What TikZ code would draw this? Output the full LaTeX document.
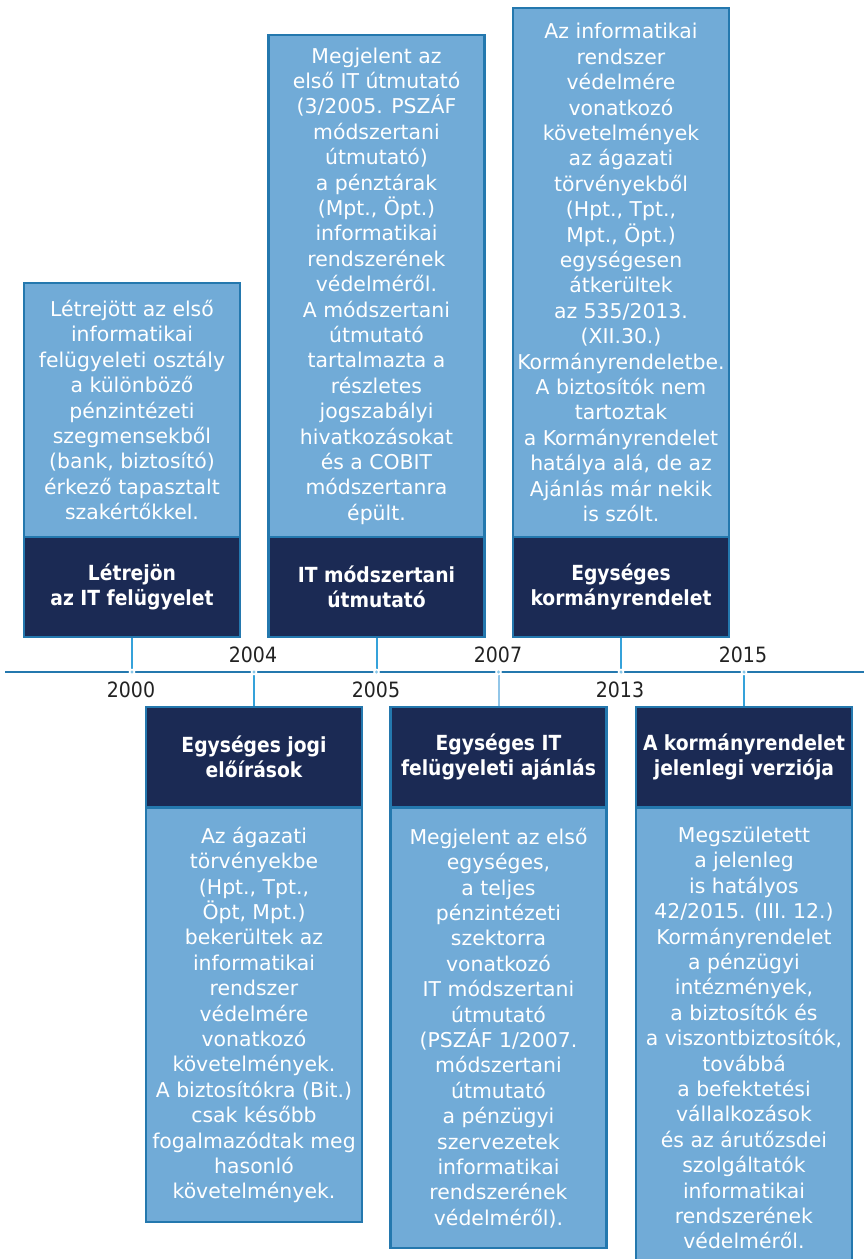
\documentclass[tikz,border=0pt]{standalone}
\usepackage{fontspec}
\setmainfont{DejaVu Sans}
\newfontfamily\headfont{DejaVu Sans Condensed}[BoldFont={DejaVu Sans Condensed Bold}]
\newfontfamily\yearfont{DejaVu Sans Condensed}
\definecolor{lightfill}{HTML}{71ABD7}
\definecolor{edgeblue}{HTML}{2478AE}
\definecolor{navy}{HTML}{1B2A54}
\definecolor{axisblue}{HTML}{2478AE}
\definecolor{tickblue}{HTML}{35A2DA}
\definecolor{ticklight}{HTML}{92C6E8}
\definecolor{yeargray}{HTML}{222222}
\begin{document}
\begin{tikzpicture}[x=0.75pt,y=-0.75pt,
  panel/.style={draw=edgeblue,line width=1.7pt,minimum width=162pt,inner sep=0pt,
    align=center,text=white},
  detailbox/.style={panel,fill=lightfill,font=\fontsize{15.3pt}{19.05pt}\selectfont},
  titlebox/.style={panel,fill=navy,minimum height=75pt,
    font=\headfont\fontsize{15.6pt}{18.8pt}\selectfont\bfseries},
  yearlabel/.style={font=\yearfont\fontsize{15.8pt}{16pt}\selectfont,text=yeargray,inner sep=0pt},
  tick/.style={draw=tickblue,line width=1.5pt},
  axisgap/.style={circle,fill=white,inner sep=0pt,minimum size=5pt},
  axisdot/.style={circle,fill=white!40!tickblue,inner sep=0pt,minimum size=2.6pt}]
\useasboundingbox (0,0) rectangle (864,1259);

% upper events
\node[detailbox,minimum height=190.5pt] (d1) at (132,410) {Létrejött az első\\informatikai\\felügyeleti osztály\\a különböző\\pénzintézeti\\szegmensekből\\(bank, biztosító)\\érkező tapasztalt\\szakértőkkel.};
\node[titlebox] (t1) at (132,587) {Létrejön\\az IT felügyelet};

\node[detailbox,minimum height=376.5pt] (d2) at (376.5,286) {Megjelent az\\első IT útmutató\\(3/2005. PSZÁF\\módszertani\\útmutató)\\a pénztárak\\(Mpt., Öpt.)\\informatikai\\rendszerének\\védelméről.\\A módszertani\\útmutató\\tartalmazta a\\részletes\\jogszabályi\\hivatkozásokat\\és a COBIT\\módszertanra\\épült.};
\node[titlebox] (t2) at (376.5,587) {IT módszertani\\útmutató};

\node[detailbox,minimum height=396.75pt] (d3) at (621,272.5) {Az informatikai\\rendszer\\védelmére\\vonatkozó\\követelmények\\az ágazati\\törvényekből\\(Hpt., Tpt.,\\Mpt., Öpt.)\\egységesen\\átkerültek\\az 535/2013.\\(XII.30.)\\Kormányrendeletbe.\\A biztosítók nem\\tartoztak\\a Kormányrendelet\\hatálya alá, de az\\Ajánlás már nekik\\is szólt.};
\node[titlebox] (t3) at (621,587) {Egységes\\kormányrendelet};

% lower events
\node[titlebox] (t4) at (254,757) {Egységes jogi\\előírások};
\node[detailbox,minimum height=310.5pt] (d4) at (254,1015) {Az ágazati\\törvényekbe\\(Hpt., Tpt.,\\Öpt, Mpt.)\\bekerültek az\\informatikai\\rendszer\\védelmére\\vonatkozó\\követelmények.\\A biztosítókra (Bit.)\\csak később\\fogalmazódtak meg\\hasonló\\követelmények.};

\node[titlebox] (t5) at (498.5,757) {Egységes IT\\felügyeleti ajánlás};
\node[detailbox,minimum height=330pt] (d5) at (498.5,1028) {Megjelent az első\\egységes,\\a teljes\\pénzintézeti\\szektorra\\vonatkozó\\IT módszertani\\útmutató\\(PSZÁF 1/2007.\\módszertani\\útmutató\\a pénzügyi\\szervezetek\\informatikai\\rendszerének\\védelméről).};

\node[titlebox] (t6) at (744,757) {A kormányrendelet\\jelenlegi verziója};
\node[detailbox,minimum height=345pt] (d6) at (744,1038) {Megszületett\\a jelenleg\\is hatályos\\42/2015. (III. 12.)\\Kormányrendelet\\a pénzügyi\\intézmények,\\a biztosítók és\\a viszontbiztosítók,\\továbbá\\a befektetési\\vállalkozások\\és az árutőzsdei\\szolgáltatók\\informatikai\\rendszerének\\védelméről.};

% time axis
\coordinate (axL) at (5,672);
\coordinate (axR) at (864,672);
\draw[axisblue,line width=2.2pt] (axL) -- (axR);
\coordinate (y2000) at (132,672);
\coordinate (y2004) at (254,672);
\coordinate (y2005) at (376.5,672);
\coordinate (y2007) at (498.5,672);
\coordinate (y2013) at (621,672);
\coordinate (y2015) at (744,672);

\draw[tick] (t1.south) -- (y2000);
\draw[tick] (t2.south) -- (y2005);
\draw[tick] (t3.south) -- (y2013);
\draw[tick] (y2004) -- (t4.north);
\draw[tick,draw=ticklight] (y2007) -- (t5.north);
\draw[tick] (y2015) -- (t6.north);

\foreach \c in {y2000,y2004,y2005,y2007,y2013,y2015}{
  \node[axisgap] at (\c) {};
  \node[axisdot] at (\c) {};
}

\node[yearlabel] (l2000) at (131,690) {2000};
\node[yearlabel] (l2004) at (253,655) {2004};
\node[yearlabel] (l2005) at (376,690) {2005};
\node[yearlabel] (l2007) at (498,655) {2007};
\node[yearlabel] (l2013) at (620,690) {2013};
\node[yearlabel] (l2015) at (743,655) {2015};
\end{tikzpicture}
\end{document}
